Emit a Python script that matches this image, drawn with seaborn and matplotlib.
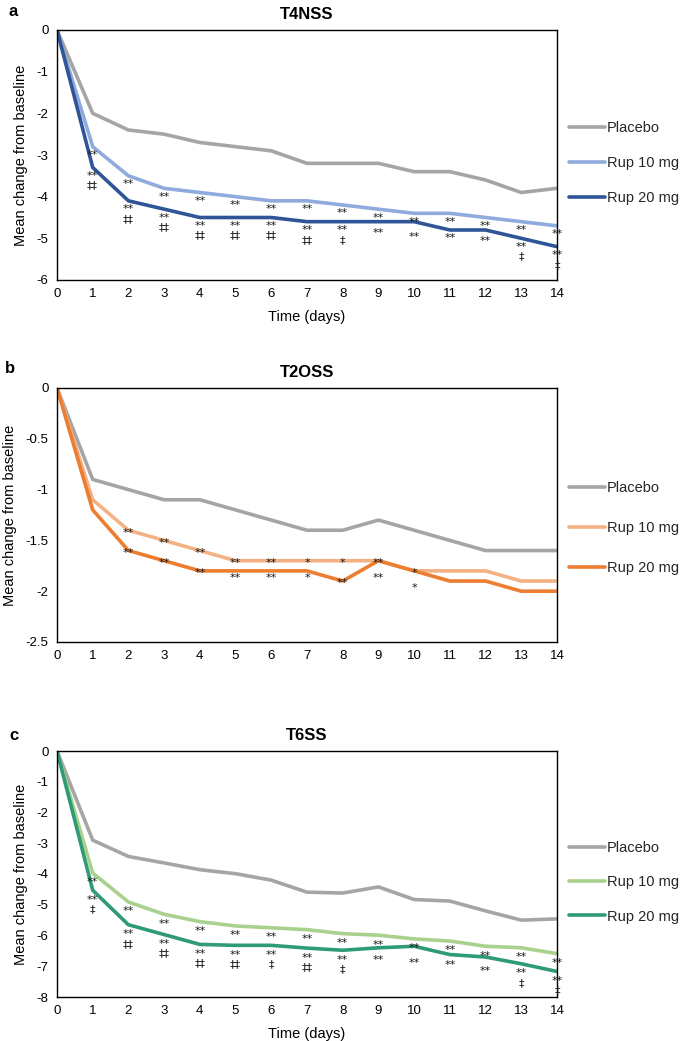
import numpy as np
import pandas as pd
import matplotlib
matplotlib.use("Agg")
import matplotlib.pyplot as plt
import seaborn as sns

sns.set_theme(style="white")
plt.rcParams['font.family'] = ['Liberation Sans', 'DejaVu Sans']
plt.rcParams['axes.unicode_minus'] = False

days = list(range(15))
groups = ["Placebo", "Rup 10 mg", "Rup 20 mg"]

# Panel a: T4NSS
a_placebo = [0, -2.0, -2.4, -2.5, -2.7, -2.8, -2.9, -3.2, -3.2, -3.2, -3.4, -3.4, -3.6, -3.9, -3.8]
a_rup10 = [0, -2.8, -3.5, -3.8, -3.9, -4.0, -4.1, -4.1, -4.2, -4.3, -4.4, -4.4, -4.5, -4.6, -4.7]
a_rup20 = [0, -3.3, -4.1, -4.3, -4.5, -4.5, -4.5, -4.6, -4.6, -4.6, -4.6, -4.8, -4.8, -5.0, -5.2]
a_sig10 = ["", "**", "**", "**", "**", "**", "**", "**", "**", "**", "**", "**", "**", "**", "**"]
a_sig20 = ["", "**\n‡‡", "**\n‡‡", "**\n‡‡", "**\n‡‡", "**\n‡‡", "**\n‡‡", "**\n‡‡", "**\n‡",
           "**", "**", "**", "**", "**\n‡", "**\n‡"]

# Panel b: T2OSS
b_placebo = [0, -0.9, -1.0, -1.1, -1.1, -1.2, -1.3, -1.4, -1.4, -1.3, -1.4, -1.5, -1.6, -1.6, -1.6]
b_rup10 = [0, -1.1, -1.4, -1.5, -1.6, -1.7, -1.7, -1.7, -1.7, -1.7, -1.8, -1.8, -1.8, -1.9, -1.9]
b_rup20 = [0, -1.2, -1.6, -1.7, -1.8, -1.8, -1.8, -1.8, -1.9, -1.7, -1.8, -1.9, -1.9, -2.0, -2.0]
b_sig10 = ["", "", "**", "**", "**", "**", "**", "*", "*", "**", "*", "", "", "", ""]
b_sig20 = ["", "", "**", "**", "**", "**", "**", "*", "**", "**", "*", "", "", "", ""]

# Panel c: T6SS
c_placebo = [0, -2.9, -3.43, -3.64, -3.86, -3.99, -4.2, -4.59, -4.62, -4.42, -4.83, -4.88, -5.2, -5.5, -5.46]
c_rup10 = [0, -3.97, -4.91, -5.31, -5.55, -5.69, -5.75, -5.81, -5.94, -5.99, -6.11, -6.18, -6.35, -6.4, -6.59]
c_rup20 = [0, -4.53, -5.65, -5.97, -6.29, -6.32, -6.32, -6.41, -6.48, -6.4, -6.35, -6.62, -6.7, -6.92, -7.17]
c_sig10 = ["", "**", "**", "**", "**", "**", "**", "**", "**", "**", "**", "**", "**", "**", "**"]
c_sig20 = ["", "**\n‡", "**\n‡‡", "**\n‡‡", "**\n‡‡", "**\n‡‡", "**\n‡", "**\n‡‡", "**\n‡",
           "**", "**", "**", "**", "**\n‡", "**\n‡"]

titles = ["T4NSS", "T2OSS", "T6SS"]
panel_letters = ["a", "b", "c"]
y_limits = [(-6, 0), (-2.5, 0), (-8, 0)]
y_steps = [1, 0.5, 1]

palettes = [
    ["#A5A5A5", "#8FAADC", "#2F5597"],
    ["#A5A5A5", "#F4B183", "#ED7D31"],
    ["#A5A5A5", "#A9D18E", "#2E9A78"],
]

panels = [
    (a_placebo, a_rup10, a_rup20, a_sig10, a_sig20),
    (b_placebo, b_rup10, b_rup20, b_sig10, b_sig20),
    (c_placebo, c_rup10, c_rup20, c_sig10, c_sig20),
]

W, H = 685, 1041
fig = plt.figure(figsize=(W / 100, H / 100), dpi=100)

# axes boxes in pixels: (left, top, right, bottom)
boxes = [(57, 30, 557, 280), (57, 388, 557, 642), (57, 751, 557, 997)]
legend_y = [0.468, 0.449, 0.467]
legend_spacing = [1.45, 1.8, 1.4]
# per-panel offsets (px) of significance labels below lines
off10 = [7, 1, 8]
off20 = [9, 3, 10]
gap = [17, 17, 17]
letter_pos = [(13, 12), (10, 368), (14, 735)]
mark_font = ['DejaVu Sans']

for i, (pl, r10, r20, s10, s20) in enumerate(panels):
    l, t, r, b = boxes[i]
    ax = fig.add_axes([l / W, 1 - b / H, (r - l) / W, (b - t) / H])
    df = pd.DataFrame({
        "day": days * 3,
        "value": pl + r10 + r20,
        "group": [groups[0]] * 15 + [groups[1]] * 15 + [groups[2]] * 15,
    })
    sns.lineplot(data=df, x="day", y="value", hue="group", hue_order=groups,
                 palette=palettes[i], linewidth=2.6, ax=ax, legend=False)
    ymin, ymax = y_limits[i]
    ax.set_xlim(0, 14)
    ax.set_ylim(ymin, ymax)
    ax.set_xticks(days)
    yt = np.arange(ymin, ymax + 1e-9, y_steps[i])
    ax.set_yticks(yt)
    ax.set_yticklabels([("%g" % v) for v in yt])
    ax.tick_params(axis="both", length=0, labelsize=9.5, colors="black", pad=6)
    for sp in ax.spines.values():
        sp.set_visible(True)
        sp.set_color("black")
        sp.set_linewidth(1.0)
    ax.set_ylabel("Mean change from baseline", fontsize=10.5, color="black", labelpad=6)
    if i == 1:
        ax.set_xlabel("")
    else:
        ax.set_xlabel("Time (days)", fontsize=10.5, color="black", labelpad=7)
    ax.set_title(titles[i], fontsize=12, fontweight="bold", pad=8, color="black")

    # significance labels
    upp = (ymax - ymin) / (b - t)  # data units per pixel
    for d in days:
        if s10[d]:
            y10 = r10[d] - off10[i] * upp
            ax.annotate(s10[d], xy=(d, y10), xytext=(0, -1), textcoords="offset points",
                        ha="center", va="center", fontsize=8, color="#1a1a1a",
                        family=mark_font)
        else:
            y10 = None
        if s20[d]:
            y20 = r20[d] - off20[i] * upp
            if y10 is not None:
                y20 = min(y20, y10 - gap[i] * upp)
            ax.annotate(s20[d], xy=(d, y20), xytext=(0, 4), textcoords="offset points",
                        ha="center", va="top", fontsize=8, color="#1a1a1a",
                        linespacing=0.95, family=mark_font)

    handles = [plt.Line2D([], [], color=c, lw=2.6) for c in palettes[i]]
    ax.legend(handles, groups, loc="center left", bbox_to_anchor=(1.024, legend_y[i]),
              frameon=False, fontsize=10.5, handlelength=2.45, handletextpad=0.15,
              labelspacing=legend_spacing[i], borderaxespad=0, borderpad=0)

    lx, ly = letter_pos[i]
    fig.text(lx / W, 1 - ly / H, panel_letters[i], fontsize=12, fontweight="bold",
             ha="center", va="center", color="black")

fig.savefig("out.png", dpi=100)
